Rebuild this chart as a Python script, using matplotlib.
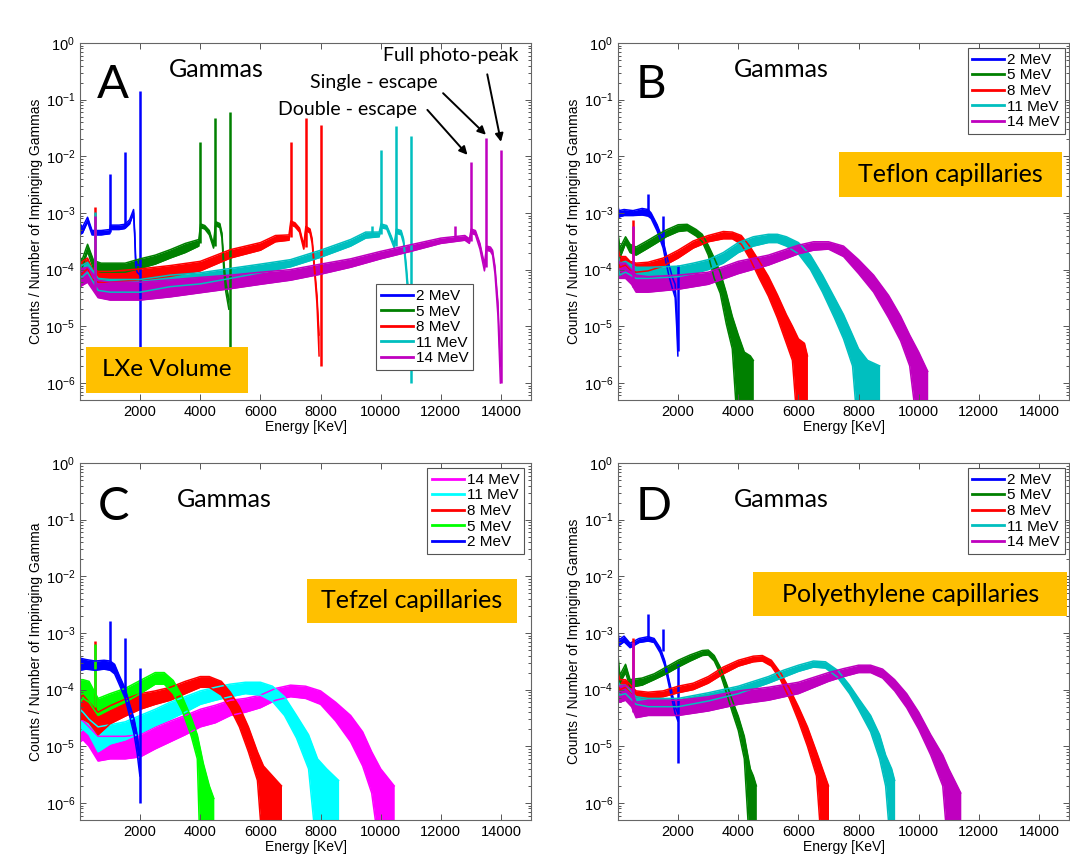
import matplotlib
matplotlib.use('Agg')
import numpy as np
import matplotlib.pyplot as plt
import matplotlib.patches as mpatches
from matplotlib.ticker import FixedLocator, FuncFormatter, NullFormatter

plt.rcParams['font.family'] = ['Liberation Sans', 'DejaVu Sans']
plt.rcParams['mathtext.default'] = 'regular'

# colours (old matlab set, panel C uses the bright one)
COLS = ['#0000ff', '#008000', '#ff0000', '#00bfbf', '#bf00bf']
COLS_C = ['#0000ff', '#00ff00', '#ff0000', '#00ffff', '#ff00ff']
LABELS = ['2 MeV', '5 MeV', '8 MeV', '11 MeV', '14 MeV']
XTICKS = [2000, 4000, 6000, 8000, 10000, 12000, 14000]
YTICKS = [1e-6, 1e-5, 1e-4, 1e-3, 1e-2, 1e-1, 1e0]

# ---------------- A : LXe volume ----------------
a2_e = [0, 80, 250, 400, 700, 990, 1010, 1300, 1480, 1520, 1650, 1780, 1820, 1850, 1900, 1995]
a2_lo = [4.2e-4, 4.4e-4, 7.0e-4, 4.1e-4, 4.1e-4, 4.3e-4, 5.1e-4, 5.1e-4, 5.3e-4, 5.5e-4, 6.4e-4, 1.0e-3, 3.6e-4, 1.2e-4, 9e-5, 8e-5]
a2_hi = [6.5e-4, 5.6e-4, 8.4e-4, 4.9e-4, 4.9e-4, 5.1e-4, 6.1e-4, 6.1e-4, 6.3e-4, 6.5e-4, 7.6e-4, 1.15e-3, 4.4e-4, 1.6e-4, 1.2e-4, 1.2e-4]
a2_pk = [1000, 1500, 2000]
a2_pk_top = [4.8e-3, 1.2e-2, 0.145]
a2_pk_bot = [4.7e-4, 5.8e-4, 2e-6]

a5_e = [0, 80, 250, 450, 700, 1000, 1500, 2000, 2500, 3000, 3500, 3950, 4010, 4150, 4300, 4440, 4510, 4650, 4720, 4780, 4850, 4950]
a5_lo = [1.05e-4, 1.1e-4, 2.1e-4, 1e-4, 9e-5, 9e-5, 9e-5, 1.05e-4, 1.25e-4, 1.6e-4, 2e-4, 2.6e-4, 5.5e-4, 5.2e-4, 4.1e-4, 2.4e-4, 6e-4, 5.5e-4, 3.6e-4, 1e-4, 4e-5, 2e-5]
a5_hi = [1.6e-4, 1.55e-4, 2.8e-4, 1.45e-4, 1.3e-4, 1.3e-4, 1.3e-4, 1.55e-4, 1.8e-4, 2.25e-4, 2.9e-4, 3.4e-4, 6.4e-4, 6e-4, 4.9e-4, 2.8e-4, 7e-4, 6.5e-4, 4.4e-4, 1.4e-4, 6e-5, 3e-5]
a5_pk = [4000, 4500, 5000]
a5_pk_top = [1.8e-2, 4.8e-2, 6e-2]
a5_pk_bot = [3e-4, 2.6e-4, 2e-6]

a8_e = [0, 80, 250, 400, 600, 1000, 2000, 3000, 4000, 5000, 6000, 6500, 6950, 7010, 7150, 7300, 7440, 7510, 7650, 7720, 7800, 7880, 7950]
a8_lo = [8e-5, 8.5e-5, 1.05e-4, 6.8e-5, 6e-5, 6e-5, 6.6e-5, 7.6e-5, 9.5e-5, 1.6e-4, 2.2e-4, 3.1e-4, 3.3e-4, 6.2e-4, 5.7e-4, 4.6e-4, 2.3e-4, 5e-4, 4.4e-4, 2.9e-4, 9e-5, 2.5e-5, 3e-6]
a8_hi = [1.25e-4, 1.4e-4, 1.6e-4, 1.05e-4, 9.3e-5, 9.3e-5, 1.03e-4, 1.18e-4, 1.4e-4, 2.25e-4, 3e-4, 4e-4, 4.1e-4, 7.2e-4, 6.7e-4, 5.4e-4, 2.7e-4, 5.8e-4, 5.2e-4, 3.5e-4, 1.1e-4, 3.5e-5, 7e-6]
a8_pk = [511, 7000, 7500, 8000]
a8_pk_top = [1.25e-3, 1.8e-2, 4.8e-2, 3.6e-2]
a8_pk_bot = [8e-5, 3.7e-4, 2.5e-4, 2e-6]

a11_e = [0, 80, 250, 600, 1000, 2000, 3000, 4000, 5000, 6000, 7000, 8000, 9000, 9500, 9950, 10010, 10200, 10350, 10450, 10520, 10680, 10760, 10850, 10950]
a11_lo = [7.5e-5, 7.5e-5, 9e-5, 4.3e-5, 4e-5, 4e-5, 5e-5, 5.6e-5, 7e-5, 8.8e-5, 1.12e-4, 1.65e-4, 2.6e-4, 3.6e-4, 3.8e-4, 5.5e-4, 5.2e-4, 3.3e-4, 2.4e-4, 4.4e-4, 4.1e-4, 2.9e-4, 8.5e-5, 1.5e-5]
a11_hi = [1.2e-4, 1.2e-4, 1.35e-4, 7e-5, 6.7e-5, 6.7e-5, 8e-5, 8.8e-5, 1.05e-4, 1.25e-4, 1.5e-4, 2.2e-4, 3.4e-4, 4.6e-4, 4.6e-4, 6.4e-4, 6e-4, 3.9e-4, 2.8e-4, 5.2e-4, 4.9e-4, 3.5e-4, 1.2e-4, 2.7e-5]
a11_pk = [511, 9700, 10000, 10500, 11000]
a11_pk_top = [1.05e-3, 6e-4, 1.3e-2, 3.4e-2, 2.3e-2]
a11_pk_bot = [5.5e-5, 4.1e-4, 4.2e-4, 2.6e-4, 1e-6]

a14_e = [0, 80, 250, 600, 1000, 2000, 3000, 4000, 5000, 6000, 7000, 8000, 9000, 10000, 11000, 12000, 12800, 12950, 13010, 13150, 13300, 13450, 13520, 13650, 13720, 13800, 13900, 13980]
a14_lo = [5e-5, 5.3e-5, 6e-5, 3.2e-5, 2.9e-5, 2.9e-5, 3.3e-5, 3.9e-5, 4.6e-5, 5.5e-5, 6.5e-5, 8.3e-5, 1.1e-4, 1.55e-4, 2.1e-4, 2.9e-4, 3.3e-4, 2.9e-4, 4.4e-4, 4.1e-4, 2.3e-4, 9.5e-5, 2.2e-4, 2.1e-4, 1.8e-4, 8.5e-5, 1.5e-5, 1e-6]
a14_hi = [1.1e-4, 1.05e-4, 1.1e-4, 6.5e-5, 6e-5, 6e-5, 6.6e-5, 7.3e-5, 8e-5, 9e-5, 1e-4, 1.25e-4, 1.55e-4, 2.1e-4, 2.75e-4, 3.6e-4, 4e-4, 3.5e-4, 5.2e-4, 4.9e-4, 2.9e-4, 1.25e-4, 2.6e-4, 2.5e-4, 2.2e-4, 1.15e-4, 2.6e-5, 2e-6]
a14_pk = [511, 12480, 13000, 13500, 14000]
a14_pk_top = [9e-4, 6e-4, 8e-3, 2.1e-2, 1.3e-2]
a14_pk_bot = [4.5e-5, 3.4e-4, 3.2e-4, 1.1e-4, 1e-6]

# ---------------- B : Teflon capillaries ----------------
b2_e = [0, 30, 200, 500, 800, 1000, 1100, 1300, 1500, 1600, 1700, 1800, 1900, 1950, 1990]
b2_lo = [8e-4, 8.5e-4, 9e-4, 9e-4, 9.2e-4, 8.8e-4, 8e-4, 4.8e-4, 2.4e-4, 1.3e-4, 7.5e-5, 4.8e-5, 3.2e-5, 1e-5, 3e-6]
b2_hi = [1.3e-3, 1.1e-3, 1.15e-3, 1.1e-3, 1.2e-3, 1.15e-3, 1.0e-3, 6.2e-4, 3.3e-4, 1.9e-4, 1.2e-4, 7.5e-5, 5.5e-5, 1.8e-5, 5e-6]
b2_pk = [1000, 1500, 2000]
b2_pk_top = [2.2e-3, 9e-4, 1.2e-4]
b2_pk_bot = [1e-3, 2.8e-4, 3.7e-6]

b5_e = [0, 60, 250, 400, 600, 1000, 1300, 1600, 2000, 2300, 2600, 2800, 3000, 3200, 3400, 3600, 3800, 4000, 4200, 4400, 4500]
b5_lo = [2.5e-4, 1.6e-4, 2.9e-4, 2e-4, 1.8e-4, 2.4e-4, 3e-4, 3.8e-4, 4.7e-4, 4.9e-4, 3.9e-4, 3.1e-4, 1.8e-4, 7e-5, 3.8e-5, 1.1e-5, 4e-6, 1e-7, 1e-7, 1e-7, 1e-7]
b5_hi = [4.5e-4, 2.4e-4, 3.8e-4, 2.8e-4, 2.5e-4, 3.3e-4, 4.1e-4, 5e-4, 6.2e-4, 6.3e-4, 5.1e-4, 4.2e-4, 2.7e-4, 1.6e-4, 9e-5, 3.9e-5, 1.5e-5, 7e-6, 3.5e-6, 3e-6, 2.5e-6]

b8_e = [0, 60, 250, 400, 600, 1000, 1500, 2000, 2500, 3000, 3500, 3800, 4100, 4400, 4700, 5000, 5300, 5600, 5800, 6000, 6200, 6300]
b8_lo = [1.4e-4, 1.1e-4, 1.2e-4, 1.0e-4, 9e-5, 9.5e-5, 1.15e-4, 1.6e-4, 2.4e-4, 3.1e-4, 3.5e-4, 3.5e-4, 2.8e-4, 1.5e-4, 7e-5, 3.4e-5, 1.4e-5, 5e-6, 2.5e-6, 1e-7, 1e-7, 1e-7]
b8_hi = [2.4e-4, 1.7e-4, 1.7e-4, 1.4e-4, 1.3e-4, 1.35e-4, 1.6e-4, 2.2e-4, 3.2e-4, 4e-4, 4.7e-4, 4.6e-4, 4e-4, 2.5e-4, 1.4e-4, 7.6e-5, 3.6e-5, 1.6e-5, 1e-5, 6e-6, 5e-6, 3e-6]
b8_pk = [511]
b8_pk_top = [7.5e-4]
b8_pk_bot = [1.1e-4]

b11_e = [0, 60, 250, 600, 1000, 2000, 2500, 3000, 3500, 4000, 4500, 5000, 5300, 5600, 6000, 6400, 6800, 7200, 7500, 7800, 8000, 8300, 8700]
b11_lo = [1.1e-4, 8e-5, 9e-5, 7e-5, 7e-5, 7.5e-5, 8.5e-5, 1e-4, 1.3e-4, 2e-4, 2.6e-4, 3e-4, 3e-4, 2.6e-4, 1.9e-4, 1e-4, 4e-5, 1.4e-5, 6e-6, 2e-6, 1e-7, 1e-7, 1e-7]
b11_hi = [1.8e-4, 1.3e-4, 1.4e-4, 1.1e-4, 1.1e-4, 1.15e-4, 1.3e-4, 1.5e-4, 2e-4, 3e-4, 3.8e-4, 4.2e-4, 4.2e-4, 3.8e-4, 3e-4, 1.8e-4, 8e-5, 3.2e-5, 1.6e-5, 7e-6, 4e-6, 2.5e-6, 2e-6]

b14_e = [0, 60, 250, 450, 600, 1000, 2000, 3000, 4000, 5000, 6000, 6500, 7000, 7500, 8000, 8500, 9000, 9400, 9700, 10000, 10300]
b14_lo = [8e-5, 7e-5, 7e-5, 5.5e-5, 4e-5, 4e-5, 4.5e-5, 5.5e-5, 8.5e-5, 1.2e-4, 1.9e-4, 2.2e-4, 2.3e-4, 1.7e-4, 8.5e-5, 4e-5, 1.4e-5, 5.5e-6, 2e-6, 1e-7, 1e-7]
b14_hi = [1.5e-4, 1.3e-4, 1.3e-4, 1e-4, 8e-5, 7.5e-5, 8e-5, 9e-5, 1.4e-4, 1.8e-4, 2.7e-4, 3.1e-4, 3.1e-4, 2.6e-4, 1.5e-4, 8e-5, 3.5e-5, 1.5e-5, 7e-6, 3.5e-6, 1.6e-6]
b14_pk = [511]
b14_pk_top = [6e-4]
b14_pk_bot = [5e-5]

# ---------------- C : Tefzel capillaries ----------------
c2_e = [0, 200, 500, 800, 1000, 1150, 1300, 1500, 1650, 1800, 1900, 1990]
c2_lo = [2.2e-4, 2.3e-4, 2.2e-4, 2.3e-4, 2.2e-4, 1.9e-4, 1.25e-4, 7e-5, 3.4e-5, 1.6e-5, 7.5e-6, 3e-6]
c2_hi = [3.6e-4, 3.4e-4, 3.2e-4, 3.3e-4, 3.2e-4, 2.8e-4, 1.8e-4, 1.05e-4, 5.5e-5, 3e-5, 1.6e-5, 7e-6]
c2_pk = [1000, 1500, 2000]
c2_pk_top = [1.6e-3, 8e-4, 2.4e-4]
c2_pk_bot = [2.7e-4, 8.5e-5, 1e-6]

c5_e = [0, 100, 300, 600, 1000, 1500, 2000, 2500, 2800, 3100, 3400, 3700, 3900, 4000, 4100, 4300, 4450]
c5_lo = [6e-5, 7e-5, 6e-5, 3.5e-5, 4.5e-5, 6e-5, 8.5e-5, 1.25e-4, 1.25e-4, 8.5e-5, 4.2e-5, 1.5e-5, 6e-6, 1e-7, 1e-7, 1e-7, 1e-7]
c5_hi = [1.5e-4, 1.5e-4, 1.4e-4, 7e-5, 8.5e-5, 1.05e-4, 1.45e-4, 2e-4, 2e-4, 1.45e-4, 7.5e-5, 3.2e-5, 1.6e-5, 9e-6, 5e-6, 2e-6, 1.2e-6]
c5_pk = [511]
c5_pk_top = [6.5e-4]
c5_pk_bot = [5e-5]

c8_e = [0, 100, 300, 600, 1000, 1500, 2000, 2500, 3000, 3500, 4000, 4300, 4700, 5000, 5300, 5600, 5900, 6100, 6400, 6700]
c8_lo = [3e-5, 3e-5, 2.6e-5, 1.6e-5, 2.5e-5, 3.4e-5, 4.5e-5, 5.5e-5, 6.5e-5, 8.5e-5, 1.1e-4, 1.1e-4, 8e-5, 4.6e-5, 2.2e-5, 8e-6, 2.5e-6, 1e-7, 1e-7, 1e-7]
c8_hi = [7e-5, 8e-5, 6e-5, 4e-5, 5.2e-5, 6.8e-5, 8.5e-5, 9.5e-5, 1.1e-4, 1.4e-4, 1.7e-4, 1.7e-4, 1.4e-4, 9e-5, 5e-5, 2.2e-5, 8e-6, 4.5e-6, 3e-6, 2e-6]
c8_pk = [511]
c8_pk_top = [7.2e-4]
c8_pk_bot = [3e-5]

c11_e = [0, 100, 300, 600, 1000, 1500, 2000, 2500, 3000, 3500, 4000, 4500, 5000, 5500, 6000, 6400, 6800, 7200, 7600, 7900, 8200, 8600]
c11_lo = [1.8e-5, 2e-5, 1.6e-5, 8e-6, 1.1e-5, 1.3e-5, 1.7e-5, 2.3e-5, 3e-5, 4e-5, 5.5e-5, 6.5e-5, 7.5e-5, 8.5e-5, 8e-5, 6.2e-5, 3.5e-5, 1.4e-5, 4e-6, 1e-7, 1e-7, 1e-7]
c11_hi = [4.5e-5, 4e-5, 3e-5, 2.2e-5, 2.4e-5, 2.7e-5, 3.5e-5, 4.5e-5, 6e-5, 7.5e-5, 9.5e-5, 1.1e-4, 1.25e-4, 1.35e-4, 1.35e-4, 1.15e-4, 7.5e-5, 3.5e-5, 1.6e-5, 6e-6, 4e-6, 2.5e-6]

c14_e = [0, 100, 300, 600, 1000, 1500, 2000, 2500, 3000, 3500, 4000, 4500, 5000, 5500, 6000, 6500, 7000, 7500, 8000, 8500, 9000, 9400, 9700, 10000, 10450]
c14_lo = [1.2e-5, 1.3e-5, 1e-5, 5.5e-6, 6e-6, 6e-6, 6.5e-6, 9e-6, 1.2e-5, 1.6e-5, 2.2e-5, 2.6e-5, 3.5e-5, 4e-5, 4.8e-5, 6.5e-5, 7.5e-5, 7e-5, 5.5e-5, 2.8e-5, 1.2e-5, 4.5e-6, 1.5e-6, 1e-7, 1e-7]
c14_hi = [3e-5, 2.8e-5, 2.2e-5, 1.5e-5, 1.5e-5, 1.5e-5, 1.6e-5, 2.2e-5, 2.8e-5, 3.5e-5, 4.5e-5, 5.3e-5, 6.5e-5, 7e-5, 8e-5, 1.05e-4, 1.2e-4, 1.15e-4, 9.5e-5, 6e-5, 3.5e-5, 1.8e-5, 8e-6, 4e-6, 2e-6]

# ---------------- D : Polyethylene capillaries ----------------
d2_e = [0, 30, 200, 400, 700, 1000, 1200, 1400, 1550, 1700, 1800, 1900, 1990]
d2_lo = [6.5e-4, 6e-4, 7e-4, 5.5e-4, 6.8e-4, 7.2e-4, 6.8e-4, 4.5e-4, 2.7e-4, 1.15e-4, 6.5e-5, 3.8e-5, 2.8e-5]
d2_hi = [1.1e-3, 7.5e-4, 8.8e-4, 6.6e-4, 8e-4, 8.6e-4, 8e-4, 5.5e-4, 3.3e-4, 1.45e-4, 8.5e-5, 5e-5, 3.8e-5]
d2_pk = [1000, 1500, 2000]
d2_pk_top = [2.2e-3, 1.2e-3, 2.8e-4]
d2_pk_bot = [7.8e-4, 4.8e-4, 5e-6]

d5_e = [0, 60, 250, 400, 800, 1200, 1600, 2000, 2400, 2800, 3000, 3200, 3400, 3600, 3800, 4000, 4200, 4400, 4500, 4600]
d5_lo = [2.2e-4, 1.3e-4, 2e-4, 1.1e-4, 1.2e-4, 1.5e-4, 1.9e-4, 2.5e-4, 3.2e-4, 4e-4, 4.1e-4, 3.2e-4, 1.9e-4, 9e-5, 4e-5, 1.9e-5, 6e-6, 1e-7, 1e-7, 1e-7]
d5_hi = [4e-4, 1.8e-4, 2.8e-4, 1.5e-4, 1.6e-4, 1.9e-4, 2.5e-4, 3.3e-4, 4.1e-4, 4.9e-4, 5e-4, 4e-4, 2.5e-4, 1.3e-4, 6.5e-5, 3.4e-5, 1.5e-5, 4e-6, 3e-6, 2e-6]

d8_e = [0, 60, 250, 600, 1000, 1500, 2000, 2500, 3000, 3500, 4000, 4500, 4800, 5100, 5400, 5700, 6000, 6300, 6600, 6800, 7000]
d8_lo = [1.2e-4, 1e-4, 1.1e-4, 7.5e-5, 7e-5, 7.5e-5, 8.8e-5, 1e-4, 1.3e-4, 1.9e-4, 2.6e-4, 3.1e-4, 3.2e-4, 2.6e-4, 1.5e-4, 7e-5, 2.8e-5, 1e-5, 3e-6, 1e-7, 1e-7]
d8_hi = [2e-4, 1.5e-4, 1.5e-4, 9.5e-5, 9e-5, 9.5e-5, 1.15e-4, 1.3e-4, 1.7e-4, 2.5e-4, 3.3e-4, 3.9e-4, 4e-4, 3.3e-4, 2e-4, 1.05e-4, 5e-5, 2.2e-5, 8e-6, 4e-6, 2e-6]
d8_pk = [511]
d8_pk_top = [8e-4]
d8_pk_bot = [8e-5]

d11_e = [0, 60, 250, 600, 1000, 2000, 3000, 4000, 5000, 5500, 6000, 6500, 6900, 7300, 7700, 8000, 8400, 8700, 8900, 9100, 9200]
d11_lo = [9e-5, 8e-5, 8.5e-5, 5.5e-5, 5e-5, 5e-5, 6.3e-5, 8.5e-5, 1.3e-4, 1.65e-4, 2.1e-4, 2.5e-4, 2.4e-4, 1.65e-4, 8.5e-5, 4.5e-5, 1.8e-5, 6e-6, 2e-6, 1e-7, 1e-7]
d11_hi = [1.4e-4, 1.2e-4, 1.2e-4, 7.5e-5, 7e-5, 7e-5, 8.8e-5, 1.15e-4, 1.7e-4, 2.2e-4, 2.7e-4, 3.2e-4, 3.1e-4, 2.2e-4, 1.2e-4, 7e-5, 3.5e-5, 1.6e-5, 7e-6, 4e-6, 2.5e-6]

d14_e = [0, 60, 250, 450, 600, 1000, 2000, 3000, 4000, 5000, 6000, 7000, 7500, 8000, 8400, 8800, 9200, 9600, 10000, 10400, 10800, 11000, 11400]
d14_lo = [6e-5, 6e-5, 6.5e-5, 5e-5, 3.2e-5, 3.5e-5, 3.5e-5, 4.2e-5, 5.5e-5, 6.5e-5, 8.5e-5, 1.4e-4, 1.7e-4, 2e-4, 2e-4, 1.6e-4, 9.5e-5, 4.8e-5, 2e-5, 7e-6, 2e-6, 1e-7, 1e-7]
d14_hi = [1.2e-4, 1.15e-4, 1.2e-4, 1e-4, 6e-5, 6.5e-5, 6.5e-5, 7.5e-5, 9.5e-5, 1.1e-4, 1.35e-4, 2e-4, 2.35e-4, 2.7e-4, 2.7e-4, 2.3e-4, 1.5e-4, 8.5e-5, 4e-5, 1.6e-5, 7e-6, 4e-6, 1.5e-6]
d14_pk = [511]
d14_pk_top = [7e-4]
d14_pk_bot = [4e-5]


def spectrum(ax, e, lo, hi, color, label, pk=(), pk_top=(), pk_bot=()):
    ax.fill_between(e, lo, hi, color=color, lw=0)
    ax.plot(e, hi, color=color, lw=1.1, label=label)
    ax.plot(e, lo, color=color, lw=1.1)
    if len(pk):
        ax.vlines(pk, pk_bot, pk_top, color=color, lw=1.8)


def setup(ax, ylabel):
    ax.set_yscale('log')
    ax.set_xlim(0, 15000)
    ax.set_ylim(5e-7, 1)
    ax.xaxis.set_major_locator(FixedLocator(XTICKS))
    ax.yaxis.set_major_locator(FixedLocator(YTICKS))
    minors = [m * d for d in YTICKS[:-1] for m in range(2, 10)] + [5e-7, 6e-7, 7e-7, 8e-7, 9e-7]
    ax.yaxis.set_minor_locator(FixedLocator(minors))
    ax.yaxis.set_minor_formatter(NullFormatter())
    ax.yaxis.set_major_formatter(FuncFormatter(lambda v, p: '$10^{%d}$' % int(round(np.log10(v)))))
    ax.tick_params(which='both', direction='in', top=True, right=True, labelsize=10.5,
                   color='#555555', width=0.7)
    ax.tick_params(which='major', length=4)
    ax.tick_params(which='minor', length=2)
    for s in ax.spines.values():
        s.set_color('#666666')
        s.set_linewidth(0.8)
    ax.set_xlabel('Energy [KeV]', fontsize=10, labelpad=1)
    ax.set_ylabel(ylabel, fontsize=10, labelpad=2)


def tag(ax, letter, gx, gy, lx, ly):
    ax.text(lx, ly, letter, transform=ax.transAxes, fontsize=34, family='Lato',
            ha='center', va='center')
    ax.text(gx, gy, 'Gammas', transform=ax.transAxes, fontsize=18, family='Lato',
            ha='center', va='center')


def orange_box(ax, x0, y0, x1, y1, txt, size=18):
    r = mpatches.Rectangle((x0, y0), x1 - x0, y1 - y0, transform=ax.transAxes,
                           facecolor='#ffc000', edgecolor='none', zorder=5)
    ax.add_patch(r)
    ax.text((x0 + x1) / 2, (y0 + y1) / 2, txt, transform=ax.transAxes, fontsize=size,
            family='Lato', ha='center', va='center', zorder=6)


def legend(ax, **kw):
    leg = ax.legend(fontsize=11, handlelength=2.1, handletextpad=0.2, labelspacing=0.1,
                    borderpad=0.3, fancybox=False, framealpha=1, edgecolor='#555555', **kw)
    leg.get_frame().set_linewidth(0.8)
    leg.set_zorder(10)
    for ln in leg.get_lines():
        ln.set_linewidth(2)
    return leg


fig = plt.figure(figsize=(10.7, 8.6), dpi=100)
axA = fig.add_axes([0.0748, 0.5349, 0.4215, 0.4151])
axB = fig.add_axes([0.5776, 0.5349, 0.4215, 0.4151])
axC = fig.add_axes([0.0748, 0.0465, 0.4215, 0.4151])
axD = fig.add_axes([0.5776, 0.0465, 0.4215, 0.4151])

# A
spectrum(axA, a2_e, a2_lo, a2_hi, COLS[0], LABELS[0], a2_pk, a2_pk_top, a2_pk_bot)
spectrum(axA, a5_e, a5_lo, a5_hi, COLS[1], LABELS[1], a5_pk, a5_pk_top, a5_pk_bot)
spectrum(axA, a8_e, a8_lo, a8_hi, COLS[2], LABELS[2], a8_pk, a8_pk_top, a8_pk_bot)
spectrum(axA, a11_e, a11_lo, a11_hi, COLS[3], LABELS[3], a11_pk, a11_pk_top, a11_pk_bot)
spectrum(axA, a14_e, a14_lo, a14_hi, COLS[4], LABELS[4], a14_pk, a14_pk_top, a14_pk_bot)
setup(axA, 'Counts / Number of Impinging Gammas')
tag(axA, 'A', 0.302, 0.927, 0.072, 0.882)
orange_box(axA, 0.013, 0.02, 0.373, 0.148, 'LXe Volume', 17.5)
legend(axA, loc='upper left', bbox_to_anchor=(0.64, 0.345))
arrow = dict(arrowstyle='-|>', color='black', lw=1.4, mutation_scale=12, shrinkA=0, shrinkB=0)
axA.annotate('', xy=(14000, 1.8e-2), xytext=(13544, 0.28), arrowprops=arrow)
axA.text(12345, 0.61, 'Full photo-peak', fontsize=14, family='Lato', ha='center', va='center')
axA.annotate('', xy=(13500, 2.4e-2), xytext=(12075, 0.13), arrowprops=arrow)
axA.text(9780, 0.2, 'Single - escape', fontsize=14, family='Lato', ha='center', va='center')
axA.annotate('', xy=(12886, 1.06e-2), xytext=(11552, 0.066), arrowprops=arrow)
axA.text(8880, 0.066, 'Double - escape', fontsize=14, family='Lato', ha='center', va='center')

# B
spectrum(axB, b2_e, b2_lo, b2_hi, COLS[0], LABELS[0], b2_pk, b2_pk_top, b2_pk_bot)
spectrum(axB, b5_e, b5_lo, b5_hi, COLS[1], LABELS[1])
spectrum(axB, b8_e, b8_lo, b8_hi, COLS[2], LABELS[2], b8_pk, b8_pk_top, b8_pk_bot)
spectrum(axB, b11_e, b11_lo, b11_hi, COLS[3], LABELS[3])
spectrum(axB, b14_e, b14_lo, b14_hi, COLS[4], LABELS[4], b14_pk, b14_pk_top, b14_pk_bot)
setup(axB, 'Counts / Number of Impinging Gammas')
tag(axB, 'B', 0.363, 0.927, 0.072, 0.882)
orange_box(axB, 0.489, 0.569, 0.984, 0.695, 'Teflon capillaries')
legend(axB, loc='upper right', bbox_to_anchor=(0.99, 0.985), borderaxespad=0)

# C (plotted high energy first)
spectrum(axC, c14_e, c14_lo, c14_hi, COLS_C[4], LABELS[4])
spectrum(axC, c11_e, c11_lo, c11_hi, COLS_C[3], LABELS[3])
spectrum(axC, c8_e, c8_lo, c8_hi, COLS_C[2], LABELS[2], c8_pk, c8_pk_top, c8_pk_bot)
spectrum(axC, c5_e, c5_lo, c5_hi, COLS_C[1], LABELS[1], c5_pk, c5_pk_top, c5_pk_bot)
spectrum(axC, c2_e, c2_lo, c2_hi, COLS_C[0], LABELS[0], c2_pk, c2_pk_top, c2_pk_bot)
setup(axC, 'Counts / Number of Impinging Gamma')
tag(axC, 'C', 0.32, 0.899, 0.075, 0.877)
orange_box(axC, 0.503, 0.552, 0.969, 0.675, 'Tefzel capillaries')
legend(axC, loc='upper right', bbox_to_anchor=(0.985, 0.985), borderaxespad=0)

# D
spectrum(axD, d2_e, d2_lo, d2_hi, COLS[0], LABELS[0], d2_pk, d2_pk_top, d2_pk_bot)
spectrum(axD, d5_e, d5_lo, d5_hi, COLS[1], LABELS[1])
spectrum(axD, d8_e, d8_lo, d8_hi, COLS[2], LABELS[2], d8_pk, d8_pk_top, d8_pk_bot)
spectrum(axD, d11_e, d11_lo, d11_hi, COLS[3], LABELS[3])
spectrum(axD, d14_e, d14_lo, d14_hi, COLS[4], LABELS[4], d14_pk, d14_pk_top, d14_pk_bot)
setup(axD, 'Counts / Number of Impinging Gammas')
tag(axD, 'D', 0.363, 0.899, 0.078, 0.877)
orange_box(axD, 0.30, 0.571, 0.996, 0.695, 'Polyethylene capillaries')
legend(axD, loc='upper right', bbox_to_anchor=(0.99, 0.985), borderaxespad=0)

fig.savefig('out.png', dpi=100)
